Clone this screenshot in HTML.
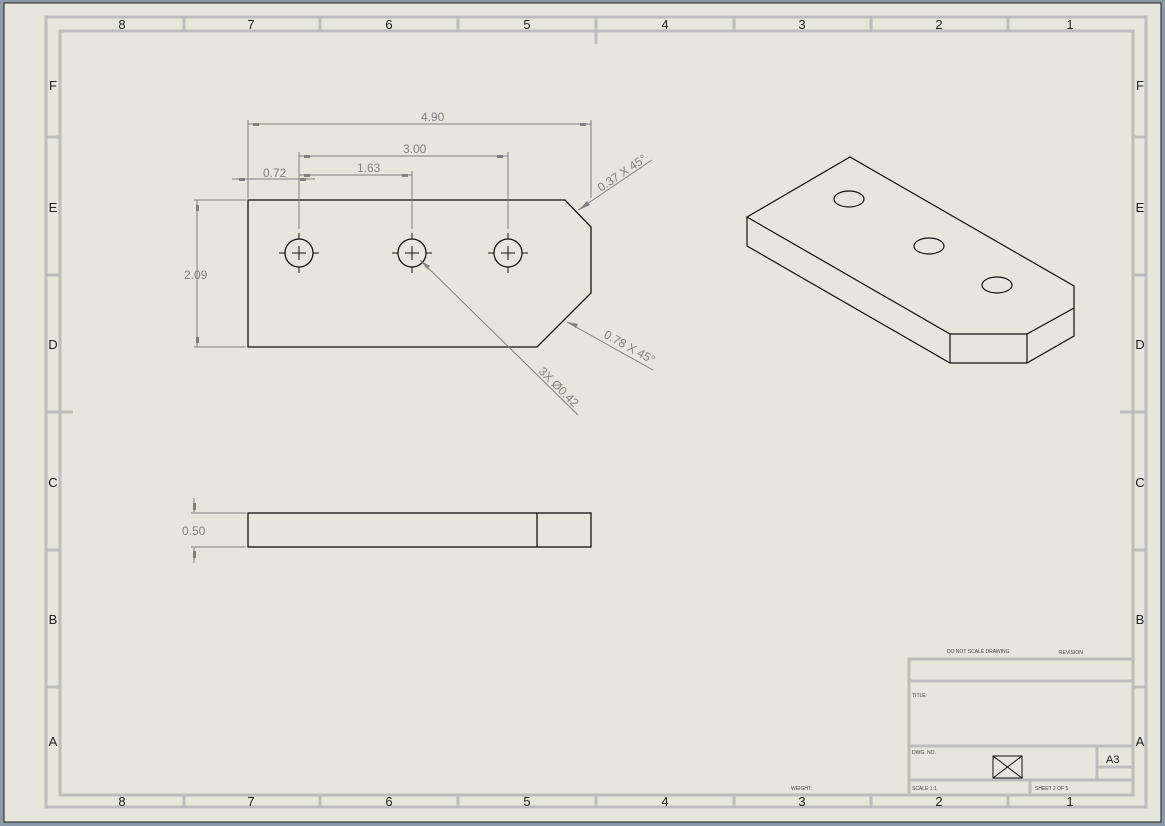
<!DOCTYPE html>
<html><head><style>
html,body{margin:0;padding:0;background:#8a9aab;}
svg{display:block;}
text{font-family:"Liberation Sans",sans-serif;}
</style></head><body>
<svg width="1165" height="826" viewBox="0 0 1165 826" xmlns="http://www.w3.org/2000/svg">
<rect x="0" y="0" width="1165" height="826" fill="#8a9aab"/>
<rect x="4" y="3" width="1157" height="819" fill="#e6e6dc" stroke="#222" stroke-width="1"/>
<g fill="none" stroke="#bdbdbd" stroke-width="3">
<rect x="46" y="17" width="1100" height="790"/>
<rect x="60" y="31" width="1073" height="764"/>
<path d="M184 17V31M320 17V31M458 17V31M596 17V44M734 17V31M871 17V31M1008 17V31"/>
<path d="M184 795V807M320 795V807M458 795V807M596 795V807M734 795V807M871 795V807M1008 795V807"/>
<path d="M46 137H60M46 275H60M46 412H73M46 550H60M46 687H60"/>
<path d="M1133 137H1146M1133 275H1146M1120 412H1146M1133 550H1146M1133 687H1146"/>
</g>
<g font-size="13" fill="#222" text-anchor="middle">
<text x="122" y="29">8</text><text x="251" y="29">7</text><text x="389" y="29">6</text><text x="527" y="29">5</text><text x="665" y="29">4</text><text x="802" y="29">3</text><text x="939" y="29">2</text><text x="1070" y="29">1</text>
<text x="122" y="806">8</text><text x="251" y="806">7</text><text x="389" y="806">6</text><text x="527" y="806">5</text><text x="665" y="806">4</text><text x="802" y="806">3</text><text x="939" y="806">2</text><text x="1070" y="806">1</text>
<text x="53" y="90">F</text><text x="53" y="212">E</text><text x="53" y="349">D</text><text x="53" y="487">C</text><text x="53" y="624">B</text><text x="53" y="746">A</text>
<text x="1140" y="90">F</text><text x="1140" y="212">E</text><text x="1140" y="349">D</text><text x="1140" y="487">C</text><text x="1140" y="624">B</text><text x="1140" y="746">A</text>
</g>
<g fill="none" stroke="#bdbdbd" stroke-width="3">
<rect x="909" y="659" width="224" height="136"/>
<path d="M909 681H1133M909 746H1133M909 780H1133M1097 746V780M1097 767H1133M1030 780V795"/>
</g>
<g font-size="5" fill="#444">
<text x="947" y="653">DO NOT SCALE DRAWING</text>
<text x="1059" y="654">REVISION</text>
<text x="912" y="697">TITLE:</text>
<text x="912" y="754">DWG. NO.</text>
<text x="912" y="790">SCALE:1:1</text>
<text x="1035" y="790">SHEET 2 OF 5</text>
<text x="791" y="790">WEIGHT:</text>
</g>
<text x="1106" y="763" font-size="11" fill="#222">A3</text>
<g stroke="#111" stroke-width="1" fill="none">
<rect x="993" y="756" width="29" height="22"/><path d="M993 756L1022 778M1022 756L993 778"/>
</g>
<g stroke="#111" stroke-width="1.3" fill="none">
<path d="M248 200H565L591 227V293L537 347H248Z"/>
<circle cx="299" cy="253" r="14"/><circle cx="412" cy="253" r="14"/><circle cx="508" cy="253" r="14"/>
</g>
<g stroke="#111" stroke-width="1" fill="none">
<path d="M292 253H306M299 246V260M279 253H285M313 253H319M299 233V239M299 267V273"/>
<path d="M405 253H419M412 246V260M392 253H398M426 253H432M412 233V239M412 267V273"/>
<path d="M501 253H515M508 246V260M488 253H494M522 253H528M508 233V239M508 267V273"/>
</g>
<g stroke="#808080" stroke-width="1" fill="none">
<path d="M248 120V198M591 120V198M248 124H591"/>
<path d="M299 152V229M508 152V229M299 156H508"/>
<path d="M412 171V229M299 175H412"/>
<path d="M232 179H315"/>
<path d="M194 200H246M194 347H246M197 200V347"/>
<path d="M578 210L652 160M567 322L653 370M420 260L578 415"/>
<path d="M194 498V512M191 513H246M191 547H246M194 548V563"/>
</g>
<g fill="#808080">
<rect x="253" y="123" width="6" height="3"/><rect x="580" y="123" width="6" height="3"/>
<rect x="304" y="155" width="6" height="3"/><rect x="497" y="155" width="6" height="3"/>
<rect x="304" y="174" width="6" height="3"/><rect x="402" y="174" width="6" height="3"/>
<rect x="239" y="178" width="6" height="3"/><rect x="300" y="178" width="6" height="3"/>
<rect x="196" y="205" width="3" height="6"/><rect x="196" y="337" width="3" height="6"/>
<rect x="193" y="503" width="3" height="7"/><rect x="193" y="551" width="3" height="7"/>
<path d="M579 210L587 201L590 205Z"/>
<path d="M568 322L578 324L576 328Z"/>
<path d="M421 261L430 266L427 269Z"/>
</g>
<g font-size="12" fill="#808080">
<text x="421" y="121">4.90</text>
<text x="403" y="153">3.00</text>
<text x="357" y="172">1.63</text>
<text x="263" y="177">0.72</text>
<text x="184" y="279">2.09</text>
<text x="182" y="535">0.50</text>
<text transform="translate(601,192) rotate(-34)">0.37 X 45°</text>
<text transform="translate(603,337) rotate(29)">0.78 X 45°</text>
<text transform="translate(538,372) rotate(45)">3X Ø0.42</text>
</g>
<g stroke="#111" stroke-width="1.3" fill="none">
<rect x="248" y="513" width="343" height="34"/><path d="M537 513V547"/>
</g>
<g stroke="#111" stroke-width="1.2" fill="none">
<path d="M747 217L850 157L1074 286V308L1027 334H950L747 217Z"/>
<path d="M747 217V246L950 363H1027L1074 336V308M950 334V363M1027 334V363"/>
<ellipse cx="849" cy="199" rx="15" ry="8"/>
<ellipse cx="929" cy="246" rx="15" ry="8"/>
<ellipse cx="997" cy="285" rx="15" ry="8"/>
</g>
</svg>
</body></html>
